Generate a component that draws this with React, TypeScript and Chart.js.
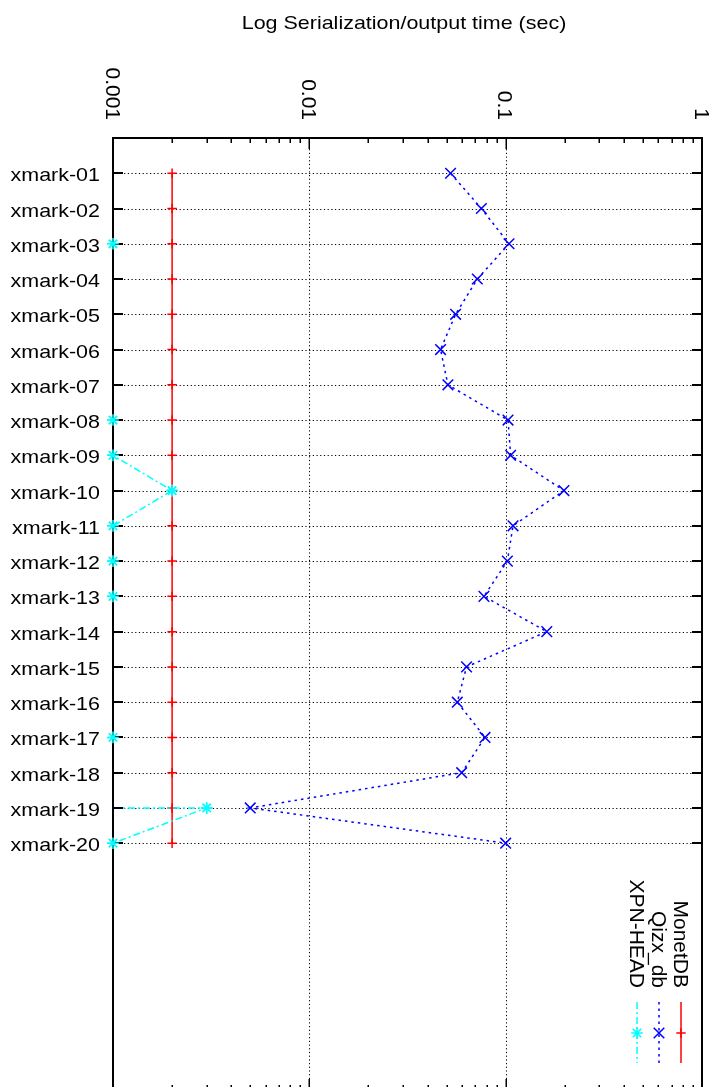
import React, { useEffect, useRef } from "react";
import { Chart, registerables } from "chart.js";

Chart.register(...registerables);

// ---------- data ----------
const categories = [
  "xmark-01", "xmark-02", "xmark-03", "xmark-04", "xmark-05",
  "xmark-06", "xmark-07", "xmark-08", "xmark-09", "xmark-10",
  "xmark-11", "xmark-12", "xmark-13", "xmark-14", "xmark-15",
  "xmark-16", "xmark-17", "xmark-18", "xmark-19", "xmark-20",
];

const monetDB = [
  0.002, 0.002, 0.002, 0.002, 0.002,
  0.002, 0.002, 0.002, 0.002, 0.002,
  0.002, 0.002, 0.002, 0.002, 0.002,
  0.002, 0.002, 0.002, 0.002, 0.002,
];

const qizxDb = [
  0.0524, 0.0752, 0.104, 0.0717, 0.0556,
  0.0466, 0.0508, 0.1028, 0.106, 0.198,
  0.109, 0.102, 0.0775, 0.162, 0.0632,
  0.0567, 0.0785, 0.0597, 0.005, 0.1,
];

const xpnHead: (number | null)[] = [
  null, null, 0.001, null, null,
  null, null, 0.001, 0.001, 0.002,
  0.001, 0.001, 0.001, null, null,
  null, 0.001, null, 0.003, 0.001,
];
// xmark-19 has a second (floor) reading for XPN-HEAD, plotted without marker
const xpnHeadXmark19Floor = 0.001;

const xTickValues = [0.001, 0.01, 0.1, 1];
const xTickLabels = ["0.001", "0.01", "0.1", "1"];
const minorMultipliers = [2, 3, 4, 5, 6, 7, 8, 9];
const seriesNames = ["MonetDB", "Qizx_db", "XPN-HEAD"];
const axisTitle = "Log Serialization/output time (sec)";

// ---------- styles ----------
const RED = "#ff0000";
const BLUE = "#0000ff";
const CYAN = "#00ffff";
const FONT_FAMILY = '"Liberation Sans", Arial, Helvetica, sans-serif';
const QIZX_DASH = [2.5, 4];
const XPN_DASH = [7, 3, 2, 3];

function drawText(
  ctx: CanvasRenderingContext2D,
  text: string,
  x: number,
  y: number,
  align: CanvasTextAlign,
  rotated: boolean,
  size: number,
  stretch: number
) {
  ctx.save();
  ctx.translate(x, y);
  if (rotated) ctx.rotate(Math.PI / 2);
  ctx.scale(stretch, 1);
  ctx.font = `${size}px ${FONT_FAMILY}`;
  ctx.fillStyle = "#000";
  ctx.textAlign = align;
  ctx.textBaseline = "alphabetic";
  ctx.fillText(text, 0, 0);
  ctx.restore();
}

function drawMarker(ctx: CanvasRenderingContext2D, kind: string, cx: number, cy: number, r: number) {
  ctx.beginPath();
  if (kind === "plus" || kind === "star") {
    ctx.moveTo(cx - r, cy);
    ctx.lineTo(cx + r, cy);
    ctx.moveTo(cx, cy - r);
    ctx.lineTo(cx, cy + r);
  }
  if (kind === "x" || kind === "star") {
    const d = kind === "star" ? r * 0.707 : r;
    ctx.moveTo(cx - d, cy - d);
    ctx.lineTo(cx + d, cy + d);
    ctx.moveTo(cx - d, cy + d);
    ctx.lineTo(cx + d, cy - d);
  }
  ctx.stroke();
}

const framePlugin = {
  id: "gnuplotFrame",
  beforeDatasetsDraw(chart: any) {
    const { ctx, chartArea: a, scales } = chart;
    const xs = scales.x;
    const ys = scales.y;
    ctx.save();
    ctx.strokeStyle = "#000";
    ctx.lineWidth = 1;
    ctx.setLineDash([1.2, 2.5]);
    xTickValues.forEach((v) => {
      const px = xs.getPixelForValue(v);
      if (px <= a.left + 1 || px >= a.right - 1) return;
      const x = Math.round(px) + 0.5;
      ctx.beginPath();
      ctx.moveTo(x, a.top);
      ctx.lineTo(x, a.bottom);
      ctx.stroke();
    });
    categories.forEach((_, i) => {
      const y = Math.round(ys.getPixelForValue(i + 1)) + 0.5;
      ctx.beginPath();
      ctx.moveTo(a.left, y);
      ctx.lineTo(a.right, y);
      ctx.stroke();
    });
    ctx.restore();
  },
  afterDatasetsDraw(chart: any) {
    const { ctx, chartArea: a, scales } = chart;
    const xs = scales.x;
    const ys = scales.y;
    ctx.save();
    ctx.setLineDash([]);
    ctx.strokeStyle = "#000";
    ctx.lineWidth = 2;
    ctx.strokeRect(a.left, a.top, a.right - a.left, a.bottom - a.top);

    // row ticks (left and right, inward)
    categories.forEach((_, i) => {
      const y = Math.round(ys.getPixelForValue(i + 1));
      ctx.beginPath();
      ctx.moveTo(a.left, y);
      ctx.lineTo(a.left + 10, y);
      ctx.moveTo(a.right, y);
      ctx.lineTo(a.right - 10, y);
      ctx.stroke();
    });

    // log ticks on top and bottom
    ctx.lineWidth = 1.5;
    xTickValues.forEach((v, k) => {
      const x = Math.round(xs.getPixelForValue(v)) + 0.25;
      ctx.beginPath();
      ctx.moveTo(x, a.top);
      ctx.lineTo(x, a.top + 11);
      ctx.moveTo(x, a.bottom);
      ctx.lineTo(x, a.bottom - 11);
      ctx.stroke();
      if (k < xTickValues.length - 1) {
        minorMultipliers.forEach((m) => {
          const mx = Math.round(xs.getPixelForValue(v * m)) + 0.25;
          ctx.beginPath();
          ctx.moveTo(mx, a.top);
          ctx.lineTo(mx, a.top + 5);
          ctx.moveTo(mx, a.bottom);
          ctx.lineTo(mx, a.bottom - 5);
          ctx.stroke();
        });
      }
    });
    ctx.restore();

    // markers sit above the frame
    const meta = chart.getDatasetMeta(2);
    meta.data.forEach((el: any) => el.draw(ctx, a));
  },
  afterDraw(chart: any) {
    const { ctx, scales } = chart;
    const xs = scales.x;
    const ys = scales.y;

    // title
    drawText(ctx, axisTitle, 404, 29, "center", false, 19, 1.13);

    // category labels
    categories.forEach((c, i) => {
      const y = ys.getPixelForValue(i + 1);
      drawText(ctx, c, 100, y + 8, "right", false, 19, 1.13);
    });

    // rotated log tick labels
    xTickValues.forEach((v, k) => {
      const x = xs.getPixelForValue(v);
      drawText(ctx, xTickLabels[k], x - 7.5, 120, "right", true, 21, 1);
    });

    // legend
    const cols = [681, 659, 637];
    const colors = [RED, BLUE, CYAN];
    const dashes = [[], QIZX_DASH, XPN_DASH];
    const kinds = ["plus", "x", "star"];
    const radii = [4.7, 5.3, 5.8];
    seriesNames.forEach((name, i) => {
      const cx = cols[i];
      drawText(ctx, name, cx - 7.5, 988, "right", true, 21, 1);
      ctx.save();
      ctx.strokeStyle = colors[i];
      ctx.lineWidth = 1.5;
      ctx.setLineDash(dashes[i]);
      ctx.beginPath();
      ctx.moveTo(cx, 1002);
      ctx.lineTo(cx, 1063);
      ctx.stroke();
      ctx.setLineDash([]);
      drawMarker(ctx, kinds[i], cx, 1033, radii[i]);
      ctx.restore();
    });
  },
};

export default function App() {
  const ref = useRef<HTMLCanvasElement>(null);

  useEffect(() => {
    const canvas = ref.current;
    if (!canvas) return;

    const monetData = categories.map((_, i) => ({ x: monetDB[i], y: i + 1 }));
    const qizxData = categories.map((_, i) => ({ x: qizxDb[i], y: i + 1 }));
    const xpnData: any[] = [];
    categories.forEach((_, i) => {
      if (i === 18) xpnData.push({ x: xpnHeadXmark19Floor, y: i + 1, noMarker: true });
      xpnData.push({ x: xpnHead[i], y: i + 1 });
    });

    const chart = new Chart(canvas, {
      type: "line",
      data: {
        datasets: [
          {
            label: seriesNames[0],
            data: monetData,
            borderColor: RED,
            backgroundColor: RED,
            borderWidth: 1.5,
            pointStyle: "cross",
            pointRadius: 4.7,
            pointBorderWidth: 1.5,
            pointBorderColor: RED,
            pointBackgroundColor: RED,
            fill: false,
            order: 3,
            clip: false,
          },
          {
            label: seriesNames[1],
            data: qizxData,
            borderColor: BLUE,
            backgroundColor: BLUE,
            borderWidth: 1.5,
            borderDash: QIZX_DASH,
            pointStyle: "crossRot",
            pointRadius: 7.5,
            pointBorderWidth: 1.5,
            pointBorderColor: BLUE,
            pointBackgroundColor: BLUE,
            fill: false,
            order: 2,
            clip: false,
          },
          {
            label: seriesNames[2],
            data: xpnData,
            borderColor: CYAN,
            backgroundColor: CYAN,
            borderWidth: 1.5,
            borderDash: XPN_DASH,
            pointStyle: "star",
            pointRadius: (c: any) => (c.raw && c.raw.noMarker ? 0 : 5.8),
            pointBorderWidth: 1.5,
            pointBorderColor: CYAN,
            pointBackgroundColor: CYAN,
            fill: false,
            spanGaps: false,
            order: 1,
            clip: false,
          },
        ] as any,
      },
      options: {
        responsive: false,
        maintainAspectRatio: false,
        animation: false,
        devicePixelRatio: 1,
        indexAxis: "y",
        events: [],
        layout: { padding: { left: 113, right: 17, top: 138, bottom: 10 } },
        scales: {
          x: { type: "logarithmic", min: 0.001, max: 1, display: false },
          y: { type: "linear", min: 0, max: 27, reverse: true, display: false },
        },
        plugins: {
          legend: { display: false },
          tooltip: { enabled: false },
          title: { display: false },
        },
      } as any,
      plugins: [framePlugin as any],
    });

    return () => chart.destroy();
  }, []);

  return (
    <div
      style={{
        position: "fixed",
        left: 0,
        top: 0,
        width: 719,
        height: 1087,
        overflow: "hidden",
        background: "#fff",
      }}
    >
      <canvas ref={ref} width={719} height={1100} style={{ display: "block" }} />
    </div>
  );
}
